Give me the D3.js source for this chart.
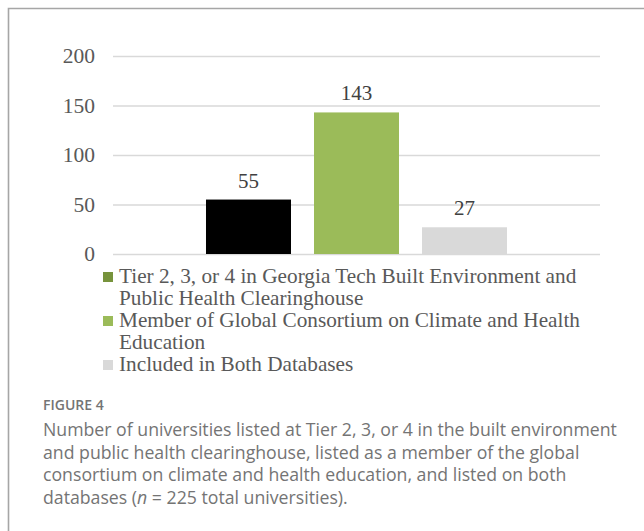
<!DOCTYPE html>
<html>
<head>
<meta charset="utf-8">
<script src="https://cdn.jsdelivr.net/npm/d3@7"></script>
<style>
  body { margin: 0; background: #fff; }
</style>
</head>
<body>
<div id="chart"></div>
<script>
var series = [
  'Tier 2, 3, or 4 in Georgia Tech Built Environment and Public Health Clearinghouse',
  'Member of Global Consortium on Climate and Health Education',
  'Included in Both Databases'
];
var values = [55, 143, 27];
var barColors = ['#000000', '#9bbb59', '#d9d9d9'];
var swatchColors = ['#77933c', '#9bbb59', '#d9d9d9'];
var legendLines = [
  ['Tier 2, 3, or 4 in Georgia Tech Built Environment and', 'Public Health Clearinghouse'],
  ['Member of Global Consortium on Climate and Health', 'Education'],
  ['Included in Both Databases']
];
var yTicks = [0, 50, 100, 150, 200];
var captionTitle = 'FIGURE 4';
var captionLines = [
  'Number of universities listed at Tier 2, 3, or 4 in the built environment',
  'and public health clearinghouse, listed as a member of the global',
  'consortium on climate and health education, and listed on both'
];

var width = 644, height = 531;
var margin = {top: 56, right: 44, left: 113};
var plotBottom = 254;
var serif = '"Liberation Serif", "Times New Roman", serif';

var svg = d3.select('#chart').append('svg')
  .attr('width', width)
  .attr('height', height);

// frame
svg.append('path')
  .attr('d', 'M8.5,' + height + 'V8.5H' + width)
  .attr('fill', 'none')
  .attr('stroke', '#a6a6a6')
  .attr('stroke-width', 1.6);

var x = d3.scaleBand()
  .domain(series)
  .range([margin.left, width - margin.right])
  .paddingInner(0.213)
  .paddingOuter(0.861);

var y = d3.scaleLinear()
  .domain([0, 200])
  .range([plotBottom, margin.top]);

var yAxis = d3.axisLeft(y)
  .tickValues(yTicks)
  .tickSize(-(width - margin.right - margin.left))
  .tickPadding(18);

var gy = svg.append('g')
  .attr('transform', 'translate(' + margin.left + ',0)')
  .call(yAxis);
gy.select('.domain').remove();
gy.selectAll('.tick line')
  .attr('stroke', '#d9d9d9')
  .attr('stroke-width', 1.5);
gy.selectAll('.tick text')
  .attr('fill', '#595959')
  .attr('font-family', serif)
  .attr('font-size', 21.5);

svg.selectAll('.bar')
  .data(values)
  .enter()
  .append('rect')
  .attr('class', 'bar')
  .attr('x', function(d, i) { return x(series[i]); })
  .attr('width', x.bandwidth())
  .attr('y', function(d) { return y(d); })
  .attr('height', function(d) { return plotBottom - y(d); })
  .attr('fill', function(d, i) { return barColors[i]; });

svg.selectAll('.val')
  .data(values)
  .enter()
  .append('text')
  .attr('class', 'val')
  .attr('x', function(d, i) { return x(series[i]) + x.bandwidth() / 2; })
  .attr('y', function(d) { return y(d) - 12; })
  .attr('text-anchor', 'middle')
  .attr('fill', '#404040')
  .attr('font-family', serif)
  .attr('font-size', 21)
  .text(function(d) { return d; });

// legend
var lineH = 22;
var legend = svg.append('g');
var row = 0;
legendLines.forEach(function(lines, i) {
  var base = 283 + row * lineH;
  legend.append('rect')
    .attr('x', 103)
    .attr('y', base - 11)
    .attr('width', 10)
    .attr('height', 10)
    .attr('fill', swatchColors[i]);
  lines.forEach(function(l, j) {
    legend.append('text')
      .attr('x', 119)
      .attr('y', base + j * lineH)
      .attr('fill', '#595959')
      .attr('font-family', serif)
      .attr('font-size', 21.25)
      .text(l);
  });
  row += lines.length;
});

// caption
var cap = svg.append('g')
  .attr('font-family', '"Open Sans", "Noto Sans", sans-serif')
  .attr('fill', '#747474');
cap.append('text')
  .attr('x', 43)
  .attr('y', 410)
  .attr('font-size', 14)
  .attr('font-weight', 600)
  .text(captionTitle);
captionLines.forEach(function(l, i) {
  cap.append('text')
    .attr('x', 43)
    .attr('y', 436 + i * 22.7)
    .attr('font-size', 17.7)
    .text(l);
});
var last = cap.append('text')
  .attr('x', 43)
  .attr('y', 436 + 3 * 22.7)
  .attr('font-size', 17.7);
last.append('tspan').text('databases (');
last.append('tspan').attr('font-style', 'italic').text('n');
last.append('tspan').text(' = 225 total universities).');
</script>
</body>
</html>
